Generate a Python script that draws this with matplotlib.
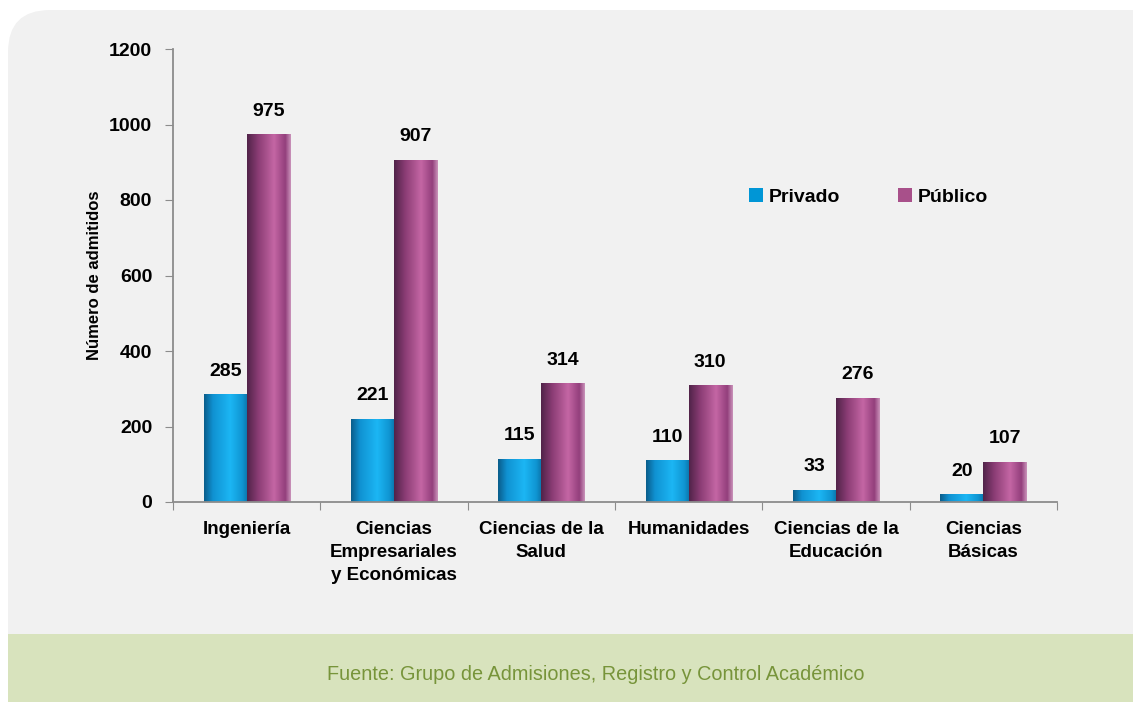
import matplotlib.pyplot as plt
import numpy as np
from matplotlib.patches import FancyBboxPatch, Rectangle
from matplotlib.colors import LinearSegmentedColormap

plt.rcParams['font.family'] = ['Liberation Sans Narrow', 'Liberation Sans', 'DejaVu Sans']

categories = ['Ingeniería', 'Ciencias\nEmpresariales\ny Económicas', 'Ciencias de la\nSalud',
              'Humanidades', 'Ciencias de la\nEducación', 'Ciencias\nBásicas']
privado = [285, 221, 115, 110, 33, 20]
publico = [975, 907, 314, 310, 276, 107]
series_names = ['Privado', 'Público']
yticks = [0, 200, 400, 600, 800, 1000, 1200]
source_text = 'Fuente: Grupo de Admisiones, Registro y Control Académico'

W, H = 1133, 702
fig = plt.figure(figsize=(W / 100, H / 100), dpi=100)
fig.patch.set_facecolor('white')

# background panel drawn in pixel units
bg = fig.add_axes([0, 0, 1, 1], zorder=0)
bg.set_xlim(0, W)
bg.set_ylim(H, 0)
bg.axis('off')
bg.add_patch(FancyBboxPatch((8, 10), W + 60, 700, boxstyle='round,pad=0,rounding_size=42',
                            facecolor='#F1F1F1', edgecolor='none'))
bg.add_patch(Rectangle((8, 634), W, 80, facecolor='#D8E3BD', edgecolor='none'))
bg.text(596, 675, source_text, ha='center', va='center', fontsize=14.3, color='#77943A')

ax = fig.add_axes([173 / W, 1 - 502 / H, (1057 - 173) / W, (502 - 49) / H], zorder=1)
ax.patch.set_alpha(0)

blue_cmap = LinearSegmentedColormap.from_list(
    'b', [(0, '#0A5E8C'), (0.2, '#1092D2'), (0.6, '#1CB6F4'), (0.88, '#1095D2'), (1, '#0B74AA')])
purple_cmap = LinearSegmentedColormap.from_list(
    'p', [(0, '#52244A'), (0.25, '#8A3C74'), (0.62, '#C466A4'), (0.88, '#933F7C'), (1, '#C890B8')])

x = np.arange(len(categories))
bw = 0.292
grad = np.linspace(0, 1, 64).reshape(1, -1)
for vals, off, cmap in [(privado, -bw / 2, blue_cmap), (publico, bw / 2, purple_cmap)]:
    bars = ax.bar(x + off, vals, width=bw, color='none', edgecolor='none')
    for b, v in zip(bars, vals):
        x0 = b.get_x()
        im = ax.imshow(grad, cmap=cmap, extent=(x0, x0 + bw, 0, v), aspect='auto',
                       interpolation='bilinear', zorder=2)
        im.set_clip_path(b)
        ax.text(x0 + bw / 2, v + 38, str(v), ha='center', va='bottom',
                fontsize=14, fontweight='bold', color='black')

ax.set_xlim(-0.5, len(categories) - 0.5)
ax.set_ylim(0, 1200)
ax.set_yticks(yticks)
ax.set_yticklabels([str(t) for t in yticks], fontsize=14, fontweight='bold')
ax.set_xticks(np.arange(len(categories) + 1) - 0.5)
ax.set_xticklabels([])
ax.set_xticks(x, minor=True)
ax.set_xticklabels(categories, minor=True, fontsize=13.5, fontweight='bold', linespacing=1.45)
ax.tick_params(axis='x', which='minor', length=0, pad=14)
ax.tick_params(axis='x', which='major', length=6, color='#8C8C8C', direction='out')
ax.tick_params(axis='y', length=6, color='#8C8C8C', direction='out', pad=9)
for s in ['top', 'right']:
    ax.spines[s].set_visible(False)
for s in ['left', 'bottom']:
    ax.spines[s].set_color('#8C8C8C')
    ax.spines[s].set_linewidth(1.3)
ax.set_ylabel('Número de admitidos', fontsize=12, fontweight='bold', labelpad=5)

# legend
handles = [Rectangle((0, 0), 1, 1, facecolor=c) for c in ['#0096D6', '#A8508A']]
ax.legend(handles, series_names, loc='center', bbox_to_anchor=(0.787, 0.673), ncol=2,
          frameon=False, prop={'weight': 'bold', 'size': 14},
          handlelength=0.7, handleheight=0.7, handletextpad=0.3, columnspacing=3.0)

fig.savefig('out.png', dpi=100, facecolor=fig.get_facecolor())
